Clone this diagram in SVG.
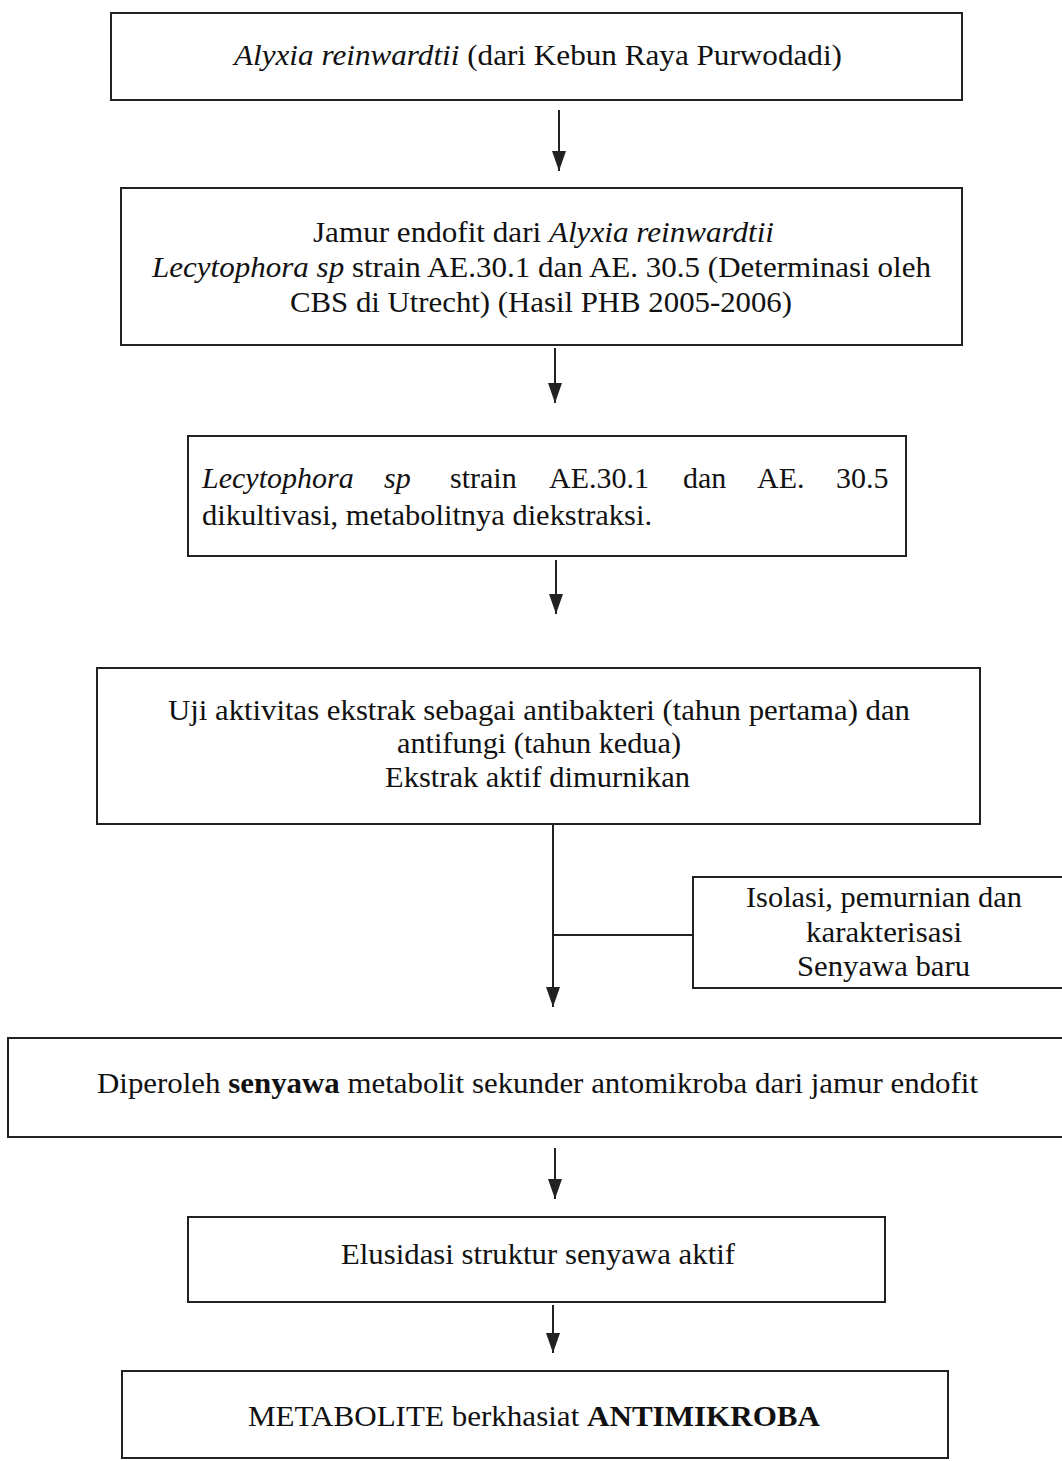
<svg xmlns="http://www.w3.org/2000/svg" width="1062" height="1461" viewBox="0 0 1062 1461">
<style>
.box{fill:#fff;stroke:#222;stroke-width:2}
.t{font-family:"Liberation Serif","Times New Roman",serif;font-size:30px;fill:#111}
.i{font-style:italic}
.b{font-weight:bold}
.ln{stroke:#222;stroke-width:2;fill:none}
</style>
<defs>
<marker id="ah" viewBox="0 0 20 14" refX="20" refY="7" markerWidth="20" markerHeight="14" markerUnits="userSpaceOnUse" orient="auto">
<path d="M0,0 L20,7 L0,14 Z" fill="#222"/>
</marker>
</defs>
<rect width="1062" height="1461" fill="#fff"/>
<g id="connectors">
<line class="ln" x1="559" y1="110" x2="559" y2="171" marker-end="url(#ah)"/>
<line class="ln" x1="555" y1="348" x2="555" y2="403" marker-end="url(#ah)"/>
<line class="ln" x1="556" y1="560" x2="556" y2="614" marker-end="url(#ah)"/>
<line class="ln" x1="553" y1="824" x2="553" y2="1007" marker-end="url(#ah)"/>
<line class="ln" x1="553" y1="935" x2="693" y2="935"/>
<line class="ln" x1="555" y1="1148" x2="555" y2="1199" marker-end="url(#ah)"/>
<line class="ln" x1="553" y1="1305" x2="553" y2="1353" marker-end="url(#ah)"/>
</g>
<g id="node1">
<rect class="box" x="111" y="13" width="851" height="87"/>
<text class="t" x="234" y="65" textLength="608" lengthAdjust="spacingAndGlyphs"><tspan class="i">Alyxia reinwardtii</tspan> (dari Kebun Raya Purwodadi)</text>
</g>
<g id="node2">
<rect class="box" x="121" y="188" width="841" height="157"/>
<text class="t" x="313" y="242" textLength="461" lengthAdjust="spacingAndGlyphs">Jamur endofit dari <tspan class="i">Alyxia reinwardtii</tspan></text>
<text class="t" x="152" y="277" textLength="779" lengthAdjust="spacingAndGlyphs"><tspan class="i">Lecytophora sp</tspan> strain AE.30.1 dan AE. 30.5 (Determinasi oleh</text>
<text class="t" x="290" y="312" textLength="502" lengthAdjust="spacingAndGlyphs">CBS di Utrecht) (Hasil PHB 2005-2006)</text>
</g>
<g id="node3">
<rect class="box" x="188" y="436" width="718" height="120"/>
<text class="t" y="488"><tspan class="i" x="202">Lecytophora</tspan><tspan class="i" x="384">sp</tspan><tspan x="450">strain</tspan><tspan x="549">AE.30.1</tspan><tspan x="683">dan</tspan><tspan x="757">AE.</tspan><tspan x="836">30.5</tspan></text>
<text class="t" x="202" y="525" textLength="450" lengthAdjust="spacingAndGlyphs">dikultivasi, metabolitnya diekstraksi.</text>
</g>
<g id="node4">
<rect class="box" x="97" y="668" width="883" height="156"/>
<text class="t" x="168" y="720" textLength="742" lengthAdjust="spacingAndGlyphs">Uji aktivitas ekstrak sebagai antibakteri (tahun pertama) dan</text>
<text class="t" x="397" y="753" textLength="284" lengthAdjust="spacingAndGlyphs">antifungi (tahun kedua)</text>
<text class="t" x="385" y="787" textLength="305" lengthAdjust="spacingAndGlyphs">Ekstrak aktif dimurnikan</text>
</g>
<g id="node5">
<rect class="box" x="693" y="877" width="380" height="111"/>
<text class="t" x="746" y="907" textLength="276" lengthAdjust="spacingAndGlyphs">Isolasi, pemurnian dan</text>
<text class="t" x="806" y="942" textLength="156" lengthAdjust="spacingAndGlyphs">karakterisasi</text>
<text class="t" x="797" y="976" textLength="173" lengthAdjust="spacingAndGlyphs">Senyawa baru</text>
</g>
<g id="node6">
<rect class="box" x="8" y="1038" width="1065" height="99"/>
<text class="t" x="97" y="1093" textLength="881" lengthAdjust="spacingAndGlyphs">Diperoleh <tspan class="b">senyawa</tspan> metabolit sekunder  antomikroba dari jamur endofit</text>
</g>
<g id="node7">
<rect class="box" x="188" y="1217" width="697" height="85"/>
<text class="t" x="341" y="1264" textLength="394" lengthAdjust="spacingAndGlyphs">Elusidasi struktur senyawa aktif</text>
</g>
<g id="node8">
<rect class="box" x="122" y="1371" width="826" height="87"/>
<text class="t" x="248" y="1426" textLength="572" lengthAdjust="spacingAndGlyphs">METABOLITE berkhasiat <tspan class="b">ANTIMIKROBA</tspan></text>
</g>
</svg>
